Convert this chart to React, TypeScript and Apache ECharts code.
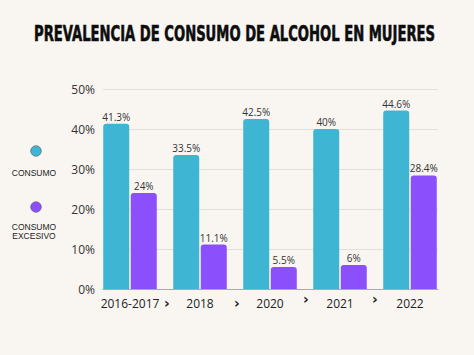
import React, { useEffect, useRef } from "react";
import * as echarts from "echarts";

const categories = ["2016-2017", "2018", "2020", "2021", "2022"];
const consumo = [41.3, 33.5, 42.5, 40, 44.6];
const consumoExcesivo = [24, 11.1, 5.5, 6, 28.4];
const seriesNames = ["CONSUMO", "CONSUMO EXCESIVO"];
const titleText = "PREVALENCIA DE CONSUMO DE ALCOHOL EN MUJERES";

const BLUE = "#3fb5d4";
const PURPLE = "#8b4ffb";

export default function App() {
  const ref = useRef<HTMLDivElement>(null);
  useEffect(() => {
    if (!ref.current) return;
    const chart = echarts.init(ref.current, undefined, { renderer: "svg" });
    const labelCommon = {
      show: true,
      position: "top",
      distance: 2,
      formatter: "{c}%",
      fontFamily: "Open Sans",
      fontSize: 10,
      color: "#333",
    };
    const arrowX = [167, 237, 306, 375];
    const arrowY = [303, 303, 299, 299];
    chart.setOption({
      animation: false,
      backgroundColor: "#f9f6f2",
      grid: [
        { left: 103, right: 36, top: 89, bottom: 66 },
        { left: 95, right: 29, top: 89, bottom: 66 },
      ],
      xAxis: [
        {
          type: "category",
          gridIndex: 0,
          data: categories,
          axisLine: { lineStyle: { color: "#aaa" } },
          axisTick: { show: false },
          axisLabel: { show: false },
        },
        {
          type: "category",
          gridIndex: 1,
          data: categories,
          axisLine: { show: false },
          axisTick: { show: false },
          axisLabel: { interval: 0, fontFamily: "Open Sans", fontSize: 12, color: "#222", margin: 8 },
        },
      ],
      yAxis: [
        {
          type: "value",
          gridIndex: 0,
          min: 0,
          max: 50,
          interval: 10,
          axisLabel: { formatter: "{value}%", fontFamily: "Open Sans", fontSize: 12, color: "#333", margin: 8 },
          splitLine: { lineStyle: { color: "#e2e0dd" } },
        },
        {
          type: "value",
          gridIndex: 1,
          min: 0,
          max: 50,
          interval: 10,
          show: false,
          splitLine: { show: false },
        },
      ],
      series: [
        {
          name: seriesNames[0],
          type: "bar",
          xAxisIndex: 1,
          yAxisIndex: 1,
          data: consumo,
          barWidth: 26,
          barGap: "6%",
          itemStyle: { color: BLUE, borderRadius: [3, 3, 0, 0] },
          label: labelCommon,
        },
        {
          name: seriesNames[1],
          type: "bar",
          xAxisIndex: 1,
          yAxisIndex: 1,
          data: consumoExcesivo,
          barWidth: 26,
          itemStyle: { color: PURPLE, borderRadius: [3, 3, 0, 0] },
          label: labelCommon,
        },
      ],
      graphic: [
        {
          type: "text",
          x: 34,
          y: 22,
          scaleX: 0.665,
          style: {
            text: titleText,
            fontFamily: "DejaVu Sans Condensed",
            fontWeight: "bold",
            fontSize: 22,
            fill: "#0d0d0d",
            stroke: "#0d0d0d",
            lineWidth: 0.6,
          },
        },
        { type: "circle", shape: { cx: 36, cy: 151, r: 5.3 }, style: { fill: BLUE, stroke: "#555", lineWidth: 0.6 } },
        { type: "circle", shape: { cx: 36, cy: 207, r: 5.3 }, style: { fill: PURPLE, stroke: "#555", lineWidth: 0.6 } },
        {
          type: "text",
          x: 34,
          y: 173,
          style: { text: "CONSUMO", fontFamily: "Liberation Sans", fontSize: 8.5, fill: "#222", align: "center", verticalAlign: "middle" },
        },
        {
          type: "text",
          x: 34,
          y: 231,
          style: { text: "CONSUMO\nEXCESIVO", fontFamily: "Liberation Sans", fontSize: 8.5, lineHeight: 9, fill: "#222", align: "center", verticalAlign: "middle" },
        },
        ...arrowX.map((x, i) => ({
          type: "text",
          x,
          y: arrowY[i],
          style: { text: "›", fontFamily: "DejaVu Sans", fontWeight: "bold", fontSize: 14, fill: "#222", align: "center", verticalAlign: "middle" },
        })),
      ],
    });
    return () => chart.dispose();
  }, []);
  return <div ref={ref} style={{ position: "absolute", left: 0, top: 0, width: 474, height: 355 }} />;
}
